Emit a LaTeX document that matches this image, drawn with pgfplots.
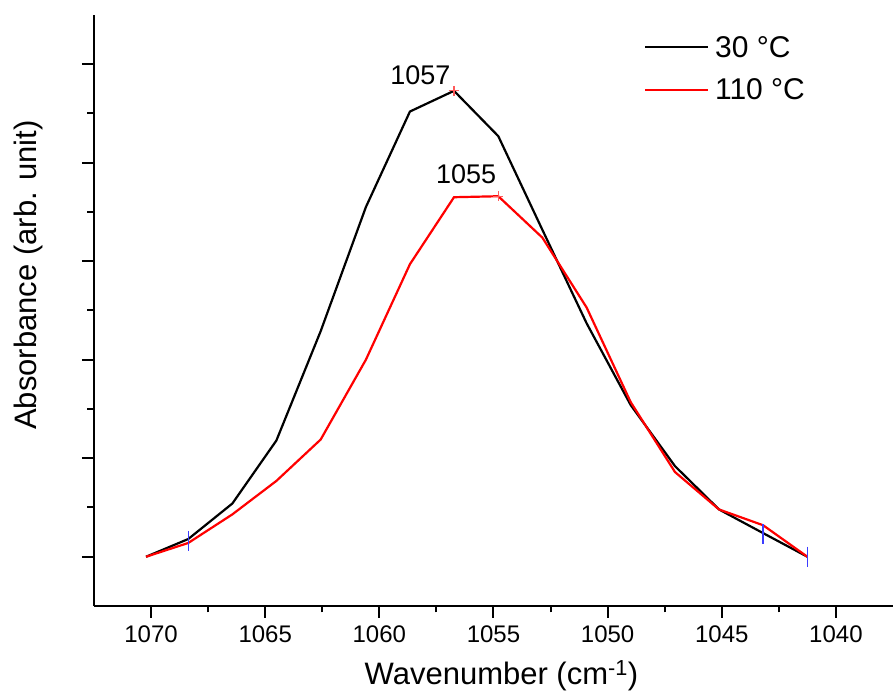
\documentclass[border=0pt]{standalone}
\usepackage{fontspec}
\setmainfont{Liberation Sans}
\usepackage{pgfplots}
\pgfplotsset{compat=1.18}
\definecolor{markblue}{RGB}{60,60,255}
\definecolor{markred}{RGB}{255,90,90}
\begin{document}
\begin{tikzpicture}
\begin{axis}[
  name=ax,
  scale only axis,
  width=799bp, height=591bp,
  x dir=reverse,
  xmin=1037.5, xmax=1072.5,
  ymin=-0.5, ymax=5.5,
  axis lines*=left,
  axis line style={line width=2bp},
  every tick/.style={black, line width=2bp},
  tick align=outside,
  major tick length=12bp,
  minor tick length=6.5bp,
  xtick={1040,1045,1050,1055,1060,1065,1070},
  xticklabels={1040,1045,1050,1055,1060,1065,1070},
  minor x tick num=1,
  ytick={0,1,2,3,4,5},
  yticklabels={},
  minor y tick num=1,
  xticklabel style={font=\fontsize{24bp}{28bp}\selectfont, yshift=-4bp},
  xlabel={Wavenumber (cm\textsuperscript{-1})},
  ylabel={Absorbance (arb. unit)},
  label style={font=\fontsize{31bp}{36bp}\selectfont},
  xlabel style={at={(axis description cs:0.51,-0.118)},anchor=center},
  ylabel style={at={(axis description cs:-0.0826,0.56)},anchor=center},
  legend style={draw=none, fill=none, at={(axis description cs:0.688,0.968)}, anchor=north west,
    font=\fontsize{30bp}{35bp}\selectfont, row sep=16bp, inner sep=0pt,
    nodes={inner xsep=6bp}},
  legend cell align=left,
  legend image code/.code={\draw[#1] (0bp,0bp) -- (63bp,0bp);},
  clip=false,
]
\addplot[black, line width=2.2bp] coordinates {
(1070.22,0) (1068.37,0.18) (1066.44,0.54) (1064.51,1.18) (1062.57,2.29)
(1060.59,3.55) (1058.66,4.52) (1056.73,4.73) (1054.79,4.27) (1052.86,3.32)
(1050.92,2.37) (1048.99,1.54) (1047.05,0.92) (1045.12,0.48) (1043.19,0.24)
(1041.25,0)};
\addlegendentry{30 °C}
\addplot[red, line width=2.2bp] coordinates {
(1070.22,0) (1068.37,0.14) (1066.44,0.43) (1064.51,0.77) (1062.57,1.19)
(1060.59,2.00) (1058.66,2.97) (1056.73,3.65) (1054.79,3.66) (1052.86,3.24)
(1050.92,2.53) (1048.99,1.57) (1047.05,0.86) (1045.12,0.48) (1043.19,0.32)
(1041.25,0)};
\addlegendentry{110 °C}
\addplot[only marks, mark=|, mark size=10bp, markblue, mark options={line width=1.5bp}, forget plot]
  coordinates {(1068.37,0.16) (1043.19,0.23) (1041.25,0)};
\addplot[only marks, mark=+, mark size=5bp, markred, mark options={line width=1.3bp}, forget plot]
  coordinates {(1056.73,4.73) (1054.79,3.66)};
\node[anchor=base, font=\fontsize{27bp}{32bp}\selectfont, inner sep=0pt] at (axis cs:1058.2,4.79) {1057};
\node[anchor=base, font=\fontsize{27bp}{32bp}\selectfont, inner sep=0pt] at (axis cs:1056.2,3.79) {1055};
\end{axis}
\pgfresetboundingbox
\path ([xshift=-94bp,yshift=-91bp]ax.south west) rectangle ([yshift=15bp]ax.north east);
\end{tikzpicture}
\end{document}
